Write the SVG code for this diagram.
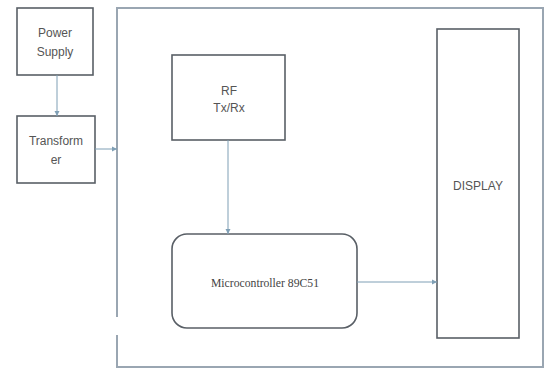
<svg xmlns="http://www.w3.org/2000/svg" width="548" height="368" viewBox="0 0 548 368">
<style>
.box{fill:#fff;stroke:#595f66;stroke-width:1.6}
.outer{fill:none;stroke:#9aa6b2;stroke-width:2}
.conn{stroke:#7f9fb5;stroke-width:1;fill:none;marker-end:url(#ah)}
.t{font-family:"Liberation Sans",Arial,sans-serif;font-size:12px;fill:#555;text-anchor:middle}
.s{font-family:"Liberation Serif","Times New Roman",serif;font-size:11.7px;fill:#444;text-anchor:middle}
</style>
<defs>
<marker id="ah" markerWidth="6" markerHeight="6" refX="5" refY="3" orient="auto" markerUnits="userSpaceOnUse">
<path d="M0,0.5 L5,3 L0,5.5 z" fill="#7f9fb5"/>
</marker>
</defs>
<rect width="548" height="368" fill="#fff"/>
<g id="outer">
<path class="outer" d="M117,317 V8 H543 V367 H117 V335"/>
</g>
<g id="power">
<rect class="box" x="17" y="8" width="76" height="67"/>
<text class="t" x="55" y="37">Power</text>
<text class="t" x="55" y="56">Supply</text>
</g>
<g id="transformer">
<rect class="box" x="17" y="116" width="78" height="67"/>
<text class="t" x="56" y="145">Transform</text>
<text class="t" x="56" y="164">er</text>
</g>
<g id="rf">
<rect class="box" x="172" y="55" width="113" height="85"/>
<text class="t" x="229" y="95">RF</text>
<text class="t" x="229" y="112">Tx/Rx</text>
</g>
<g id="micro">
<rect class="box" x="172" y="234" width="185" height="94" rx="15"/>
<text class="s" x="265" y="287">Microcontroller 89C51</text>
</g>
<g id="display">
<rect class="box" x="437" y="29" width="82" height="309"/>
<text class="t" x="478" y="190">DISPLAY</text>
</g>
<g id="connectors">
<line class="conn" x1="57" y1="75" x2="57" y2="116"/>
<line class="conn" x1="95" y1="149" x2="117" y2="149"/>
<line class="conn" x1="228" y1="140" x2="228" y2="234"/>
<line class="conn" x1="357" y1="282" x2="437" y2="282"/>
</g>
</svg>
